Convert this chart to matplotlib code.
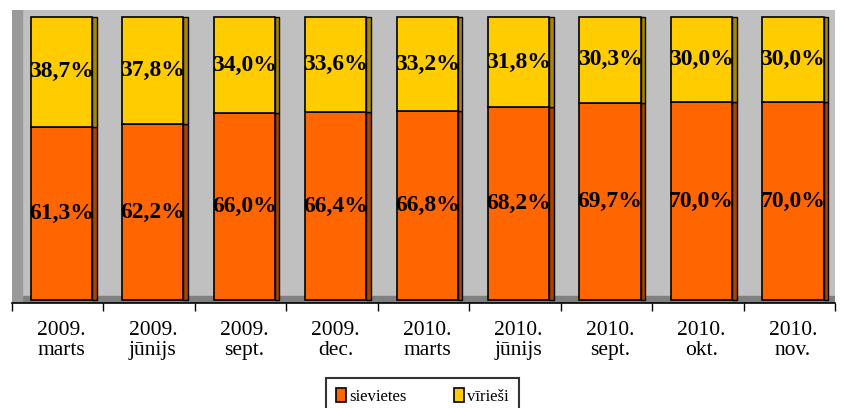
import numpy as np
import matplotlib.pyplot as plt

# dati
periodi = ["2009.\nmarts", "2009.\njūnijs", "2009.\nsept.", "2009.\ndec.",
           "2010.\nmarts", "2010.\njūnijs", "2010.\nsept.", "2010.\nokt.", "2010.\nnov."]
sievietes = [61.3, 62.2, 66.0, 66.4, 66.8, 68.2, 69.7, 70.0, 70.0]
virieshi = [38.7, 37.8, 34.0, 33.6, 33.2, 31.8, 30.3, 30.0, 30.0]

plt.rcParams['font.family'] = ['Liberation Serif', 'DejaVu Serif']

fig = plt.figure(figsize=(8.43, 4.08), dpi=100)
ax = fig.add_axes([12/843, 1 - 303/408, 823/843, 293/408])
ax.set_facecolor('#c0c0c0')

x = np.arange(len(periodi))
w = 0.67
d = 0.05
sv = np.array(sievietes)
vi = np.array(virieshi)

#pavimento e parete laterale
ax.axhspan(-1.1, 1.5, color='#808080', zorder=0)
ax.axvspan(-0.54, -0.43, color='#9a9a9a', zorder=0)

#facce laterali (effetto 3D)
ax.bar(x + w/2 + d/2, sv, width=d, color='#a84300', edgecolor='black', linewidth=1, zorder=2)
ax.bar(x + w/2 + d/2, vi, width=d, bottom=sv, color='#a88600', edgecolor='black', linewidth=1, zorder=2)

#barre
b1 = ax.bar(x, sv, width=w, color='#ff6600', edgecolor='black', linewidth=1.2, label='sievietes', zorder=3)
b2 = ax.bar(x, vi, width=w, bottom=sv, color='#ffcc00', edgecolor='black', linewidth=1.2, label='vīrieši', zorder=3)

for i in range(len(x)):
    ax.text(x[i], sv[i]/2, ("%.1f%%" % sv[i]).replace('.', ','), ha='center', va='center',
            fontsize=17, fontweight='bold', zorder=4)
    ax.text(x[i], sv[i] + vi[i]/2, ("%.1f%%" % vi[i]).replace('.', ','), ha='center', va='center',
            fontsize=17, fontweight='bold', zorder=4)

ax.set_xlim(-0.54, 8.46)
ax.set_ylim(-1.06, 102.5)
ax.set_yticks([])
ax.set_xticks(x)
ax.set_xticklabels(periodi, fontsize=15.5, linespacing=1.1)
ax.tick_params(axis='x', which='major', length=0, pad=13)
ax.set_xticks(np.arange(10) - 0.54, minor=True)
ax.tick_params(axis='x', which='minor', length=6, width=1, color='black')
for s in ['top', 'right', 'left']:
    ax.spines[s].set_visible(False)
ax.spines['bottom'].set_linewidth(1.2)

leg = fig.legend(handles=[b1, b2], loc='upper center', bbox_to_anchor=(0.501, 1 - 378/408),
                 ncol=2, frameon=True, fancybox=False, edgecolor='black', fontsize=12,
                 handlelength=0.6, handleheight=0.9, handletextpad=0.2, columnspacing=2.8,
                 borderpad=0.6, borderaxespad=0)
leg.get_frame().set_linewidth(1.5)
leg._legend_box.sep = 6

fig.savefig('out.png', dpi=100)
